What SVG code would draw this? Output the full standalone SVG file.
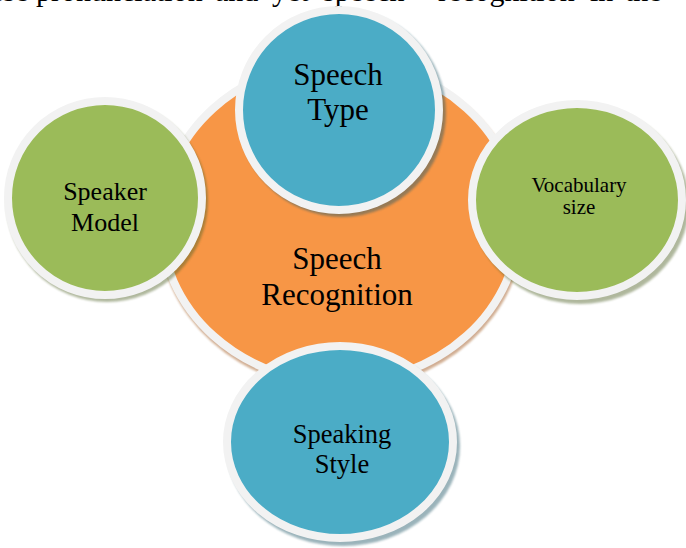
<svg xmlns="http://www.w3.org/2000/svg" width="686" height="548" viewBox="0 0 686 548">
<defs>
<filter id="blur" x="-10%" y="-10%" width="120%" height="120%"><feGaussianBlur stdDeviation="0.8"/></filter>
</defs>
<style>
.lbl{font-family:"Liberation Serif","Times New Roman",serif;fill:#000;text-anchor:middle}
.ring{stroke:#f2f2f2;stroke-width:8}
.orange{fill:#f79646}
.green{fill:#9bbb59}
.blue{fill:#4bacc6}
.sh{filter:url(#blur);opacity:0.45}
.sho{fill:#984807}
.shg{fill:#4f6228}
.shb{fill:#205867}
</style>
<rect width="686" height="548" fill="#fff"/>
<text class="lbl" style="text-anchor:start" font-size="30" y="0.5"><tspan x="-10">ese</tspan><tspan x="36">pronunciation</tspan><tspan x="215">and</tspan><tspan x="272">yet</tspan><tspan x="323">speech</tspan><tspan x="438">recognition</tspan><tspan x="590">in</tspan><tspan x="625">the</tspan></text>
<g id="connectors"></g>
<g id="speech-recognition">
<ellipse class="sh sho" cx="341" cy="225" rx="183" ry="165"/>
<ellipse class="orange ring" cx="340" cy="222" rx="179" ry="161"/>
<text class="lbl" font-size="31" x="337" y="269">Speech</text>
<text class="lbl" font-size="31" x="337" y="305">Recognition</text>
</g>
<g id="speech-type">
<ellipse class="sh shb" cx="342" cy="113" rx="104" ry="104"/>
<ellipse class="blue ring" cx="339" cy="110" rx="100" ry="100"/>
<text class="lbl" font-size="31" x="338" y="85">Speech</text>
<text class="lbl" font-size="31" x="338" y="120">Type</text>
</g>
<g id="speaker-model">
<ellipse class="sh shg" cx="107" cy="201" rx="101" ry="101"/>
<ellipse class="green ring" cx="105" cy="198" rx="97" ry="97"/>
<text class="lbl" font-size="26" x="105" y="200">Speaker</text>
<text class="lbl" font-size="26" x="105" y="231">Model</text>
</g>
<g id="vocabulary-size">
<ellipse class="sh shg" cx="580" cy="204" rx="109" ry="100"/>
<ellipse class="green ring" cx="577" cy="200" rx="105" ry="96"/>
<text class="lbl" font-size="21" x="579" y="192">Vocabulary</text>
<text class="lbl" font-size="21" x="579" y="214">size</text>
</g>
<g id="speaking-style">
<ellipse class="sh shb" cx="343" cy="446" rx="117" ry="100"/>
<ellipse class="blue ring" cx="340" cy="442" rx="113" ry="96"/>
<text class="lbl" font-size="26.5" x="342" y="443">Speaking</text>
<text class="lbl" font-size="26.5" x="342" y="473">Style</text>
</g>
</svg>
